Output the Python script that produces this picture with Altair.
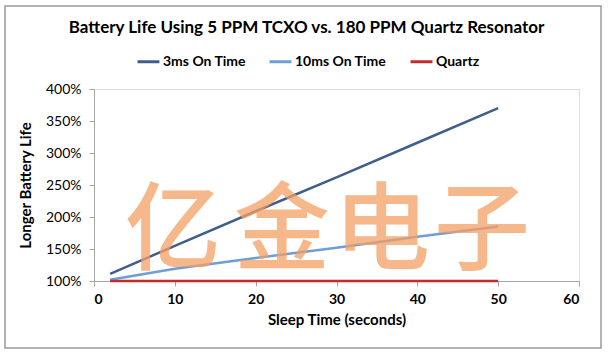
import altair as alt
import pandas as pd

sleep = [2, 10, 20, 30, 40, 50]
ms3 = [111, 155, 209, 262, 316, 370]
ms10 = [102, 119, 136, 152, 169, 185]
quartz = [100, 100, 100, 100, 100, 100]
series = ["3ms On Time", "10ms On Time", "Quartz"]
colors = ["#3F5F8A", "#6E9ED6", "#C42B2B"]
x_ticks = [0, 10, 20, 30, 40, 50, 60]
y_ticks = [1.0, 1.5, 2.0, 2.5, 3.0, 3.5, 4.0]
title_text = ["Battery Life Using 5 PPM TCXO vs. 180 PPM Quartz Resonator"]
wm_chars = ["亿", "金", "电", "子"]
wm_x = [79, 188, 288, 388]

rows = []
for name, vals in zip(series, [ms3, ms10, quartz]):
    for s, v in zip(sleep, vals):
        rows.append({"sleep": s, "life": v / 100.0, "series": name})
df = pd.DataFrame(rows)

W, H = 485, 192

lines = alt.Chart(df).mark_line(strokeWidth=2.5, clip=False).encode(
    x=alt.X("sleep:Q", scale=alt.Scale(domain=[0, 60], nice=False),
            axis=alt.Axis(values=x_ticks, title="Sleep Time (seconds)", grid=False,
                          labelFontWeight="bold", labelFont="Lato", labelFontSize=14,
                          titleFont="Lato", titleFontSize=15, titleFontWeight="bold",
                          titlePadding=6, labelPadding=6, tickSize=5,
                          domainColor="#A6A6A6", tickColor="#A6A6A6",
                          labelColor="#000", titleColor="#000")),
    y=alt.Y("life:Q", scale=alt.Scale(domain=[1.0, 4.0], nice=False, zero=False),
            axis=alt.Axis(values=y_ticks, format=".0%", title="Longer Battery Life", grid=False,
                          labelFont="Lato", labelFontSize=14, labelPadding=8,
                          titleFont="Lato", titleFontSize=15, titleFontWeight="bold",
                          titlePadding=12, tickSize=5,
                          domainColor="#A6A6A6", tickColor="#A6A6A6",
                          labelColor="#000", titleColor="#000")),
    color=alt.Color("series:N", scale=alt.Scale(domain=series, range=colors),
                    sort=series,
                    legend=alt.Legend(title=None, orient="none", direction="horizontal",
                                      legendX=42, legendY=-40, symbolType="stroke",
                                      symbolSize=480, symbolStrokeWidth=3,
                                      labelFont="Lato", labelFontSize=14, labelFontWeight="bold",
                                      labelColor="#000", columnPadding=17, labelOffset=2)),
)

wm_df = pd.DataFrame({"ch": wm_chars, "px": wm_x})
watermark = alt.Chart(wm_df).mark_text(
    font="Noto Sans CJK SC", fontSize=96, fontWeight=500,
    color="#F3A064", opacity=0.75, baseline="middle", align="center"
).encode(
    text="ch:N",
    x=alt.X("px:Q", scale=None),
    y=alt.value(144),
)

title = alt.Chart(pd.DataFrame({"t": title_text})).mark_text(
    font="Lato", fontSize=17, fontWeight="bold", color="#000",
    align="center", baseline="middle", clip=False
).encode(
    text="t:N",
    x=alt.value(W / 2 - 30),
    y=alt.value(-61),
)

frame = alt.Chart(pd.DataFrame({"a": [0]})).mark_rect(
    fill=None, stroke="#9A9A9A", strokeWidth=1.5, clip=False
).encode(
    x=alt.value(-89), x2=alt.value(W + 22), y=alt.value(-83), y2=alt.value(H + 67)
)

chart = alt.layer(frame, lines, watermark, title).properties(
    width=W, height=H,
    autosize=alt.AutoSizeParams(type="none"),
    padding={"left": 94, "top": 89, "right": 34, "bottom": 71},
).configure_view(stroke=None).configure(background="white")

chart.save("out.html", embed_options={"renderer": "svg", "actions": False})
